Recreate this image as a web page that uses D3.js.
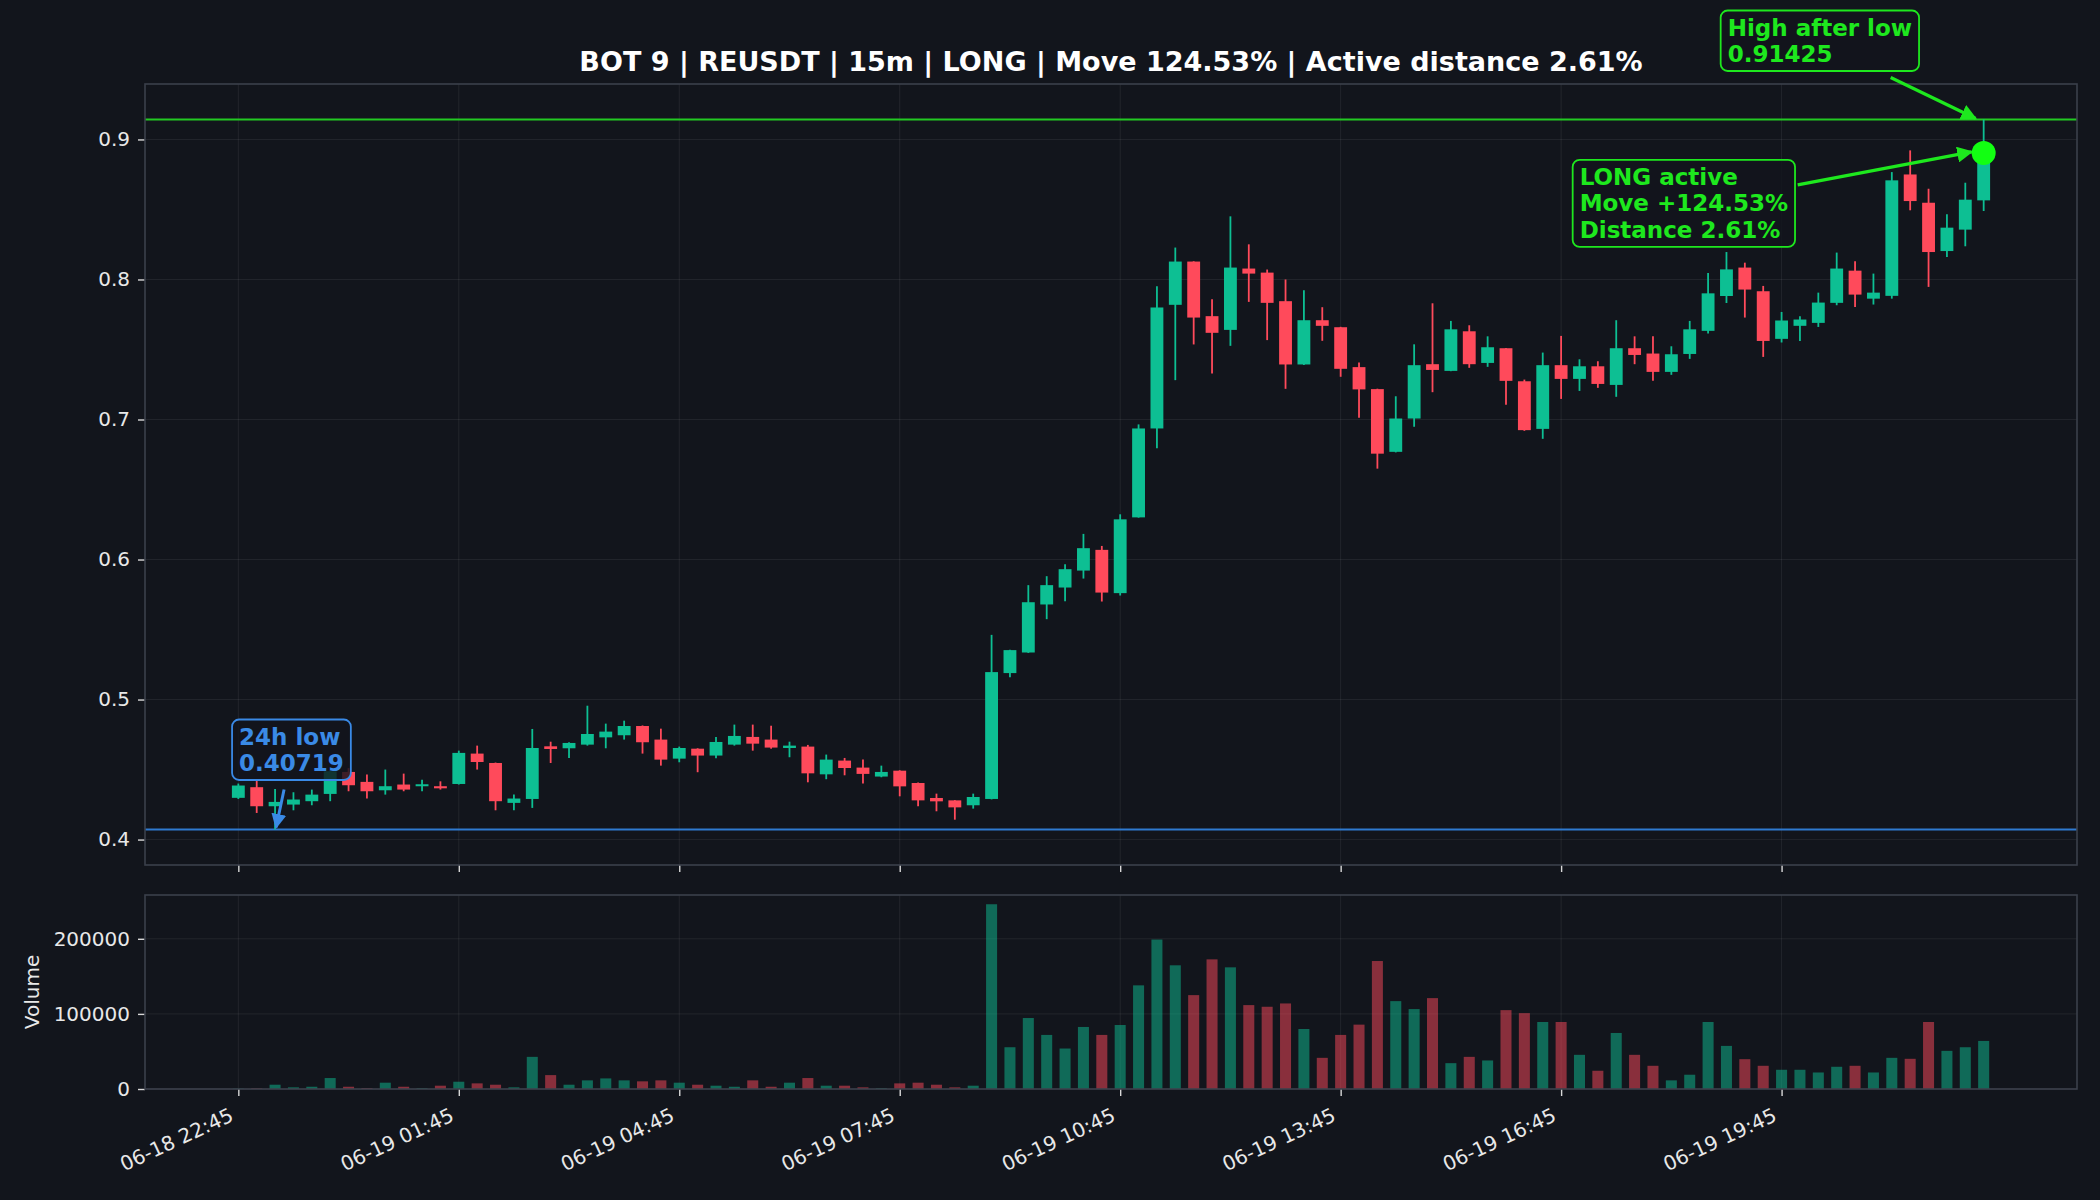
<!DOCTYPE html>
<html>
<head>
<meta charset="utf-8">
<script src="https://cdn.jsdelivr.net/npm/d3@7/dist/d3.min.js"></script>
<style>
    body { margin: 0; background: #12151c; }
    svg { display: block; font-family: "DejaVu Sans", sans-serif; }
</style>
</head>
<body>
<div id="chart"></div>
<script>
// 15m candles, 06-18 22:45 -> 06-19 22:30 (one value per candle)
var opens = [0.4298, 0.4374, 0.4238, 0.4250, 0.4274, 0.4326, 0.4483, 0.4412, 0.4352, 0.4393,
    0.4381, 0.4381, 0.4397, 0.4614, 0.4547, 0.4262, 0.4290, 0.4666, 0.4652, 0.4678,
    0.4730, 0.4745, 0.4811, 0.4714, 0.4578, 0.4649, 0.4600, 0.4678, 0.4733, 0.4714,
    0.4654, 0.4664, 0.4466, 0.4564, 0.4514, 0.4450, 0.4492, 0.4404, 0.4297, 0.4280,
    0.4245, 0.4290, 0.5189, 0.5336, 0.5679, 0.5800, 0.5921, 0.6069, 0.5760, 0.6301,
    0.6936, 0.7819, 0.8128, 0.7738, 0.7640, 0.8078, 0.8049, 0.7845, 0.7393, 0.7709,
    0.7659, 0.7374, 0.7217, 0.6769, 0.7007, 0.7395, 0.7347, 0.7630, 0.7404, 0.7509,
    0.7273, 0.6933, 0.7388, 0.7290, 0.7380, 0.7247, 0.7509, 0.7471, 0.7340, 0.7468,
    0.7633, 0.7882, 0.8085, 0.7916, 0.7576, 0.7669, 0.7690, 0.7833, 0.8063, 0.7863,
    0.7883, 0.8750, 0.8548, 0.8203, 0.8356, 0.8565];
var highs = [0.4400, 0.4420, 0.4362, 0.4338, 0.4357, 0.4495, 0.4510, 0.4464, 0.4500, 0.4471,
    0.4428, 0.4416, 0.4635, 0.4671, 0.4550, 0.4321, 0.4790, 0.4699, 0.4695, 0.4956,
    0.4828, 0.4849, 0.4815, 0.4792, 0.4664, 0.4652, 0.4733, 0.4821, 0.4821, 0.4813,
    0.4699, 0.4676, 0.4607, 0.4583, 0.4571, 0.4528, 0.4495, 0.4407, 0.4328, 0.4282,
    0.4328, 0.5462, 0.5355, 0.5817, 0.5881, 0.5966, 0.6183, 0.6097, 0.6323, 0.6965,
    0.7952, 0.8228, 0.8130, 0.7859, 0.8451, 0.8251, 0.8071, 0.8000, 0.7923, 0.7802,
    0.7662, 0.7407, 0.7220, 0.7166, 0.7537, 0.7830, 0.7704, 0.7673, 0.7594, 0.7511,
    0.7285, 0.7478, 0.7597, 0.7430, 0.7416, 0.7709, 0.7594, 0.7594, 0.7523, 0.7704,
    0.8046, 0.8196, 0.8120, 0.7954, 0.7768, 0.7737, 0.7906, 0.8192, 0.8130, 0.8042,
    0.8767, 0.8922, 0.8648, 0.8465, 0.8691, 0.91425];
var lows = [0.4290, 0.4190, 0.40719, 0.4209, 0.4245, 0.4274, 0.4345, 0.4293, 0.4321, 0.4345,
    0.4345, 0.4357, 0.4393, 0.4500, 0.4209, 0.4209, 0.4226, 0.4547, 0.4583, 0.4671,
    0.4652, 0.4714, 0.4614, 0.4528, 0.4552, 0.4481, 0.4581, 0.4671, 0.4635, 0.4649,
    0.4588, 0.4409, 0.4431, 0.4459, 0.4400, 0.4445, 0.4309, 0.4238, 0.4202, 0.4142,
    0.4221, 0.4287, 0.5160, 0.5333, 0.5574, 0.5702, 0.5864, 0.5700, 0.5743, 0.6299,
    0.6794, 0.7281, 0.7536, 0.7329, 0.7526, 0.7840, 0.7567, 0.7219, 0.7390, 0.7562,
    0.7305, 0.7013, 0.6649, 0.6765, 0.6948, 0.7195, 0.7345, 0.7369, 0.7376, 0.7105,
    0.6919, 0.6862, 0.7147, 0.7204, 0.7226, 0.7162, 0.7395, 0.7276, 0.7319, 0.7433,
    0.7614, 0.7832, 0.7728, 0.7447, 0.7550, 0.7561, 0.7661, 0.7816, 0.7804, 0.7821,
    0.7863, 0.8494, 0.7947, 0.8161, 0.8237, 0.8489];
var closes = [0.4386, 0.4238, 0.4269, 0.4286, 0.4321, 0.4488, 0.4388, 0.4345, 0.4381, 0.4357,
    0.4395, 0.4366, 0.4619, 0.4554, 0.4274, 0.4293, 0.4654, 0.4647, 0.4690, 0.4754,
    0.4771, 0.4811, 0.4695, 0.4571, 0.4654, 0.4600, 0.4697, 0.4740, 0.4685, 0.4657,
    0.4671, 0.4473, 0.4571, 0.4511, 0.4469, 0.4483, 0.4380, 0.4280, 0.4273, 0.4230,
    0.4304, 0.5196, 0.5353, 0.5695, 0.5817, 0.5931, 0.6081, 0.5764, 0.6287, 0.6936,
    0.7800, 0.8128, 0.7728, 0.7619, 0.8085, 0.8042, 0.7833, 0.7393, 0.7709, 0.7669,
    0.7362, 0.7215, 0.6756, 0.7007, 0.7388, 0.7354, 0.7644, 0.7395, 0.7516, 0.7276,
    0.6924, 0.7388, 0.7290, 0.7380, 0.7254, 0.7509, 0.7461, 0.7340, 0.7466, 0.7644,
    0.7901, 0.8072, 0.7928, 0.7561, 0.7707, 0.7714, 0.7835, 0.8078, 0.7892, 0.7906,
    0.8708, 0.8560, 0.8196, 0.8370, 0.8570, 0.8904];
var volumes = [500, 800, 5700, 2200, 3000, 14600, 3000, 1200, 8400, 3000,
    1000, 4400, 9700, 7500, 5700, 2200, 42800, 18500, 5700, 11500,
    14100, 11500, 10200, 11500, 8400, 5700, 4400, 3000, 11500, 3000,
    8400, 14600, 4400, 4400, 2200, 1000, 7500, 8400, 5700, 2200,
    4400, 246000, 55600, 94500, 72000, 53900, 82600, 72000, 85200, 138000,
    199000, 164700, 125000, 172600, 162000, 111700, 109500, 113900, 79900, 41500,
    72000, 85700, 170400, 117000, 106400, 121000, 34400, 42800, 38000, 105000,
    101000, 89200, 89200, 45500, 24300, 74600, 45500, 30900, 11500, 19000,
    89200, 57400, 39700, 30900, 25600, 25600, 22000, 29600, 30900, 22000,
    41500, 40200, 89200, 50800, 55600, 64000];

// x tick labels, one every 12 candles (3 hours)
var tickLabels = ["06-18 22:45", "06-19 01:45", "06-19 04:45", "06-19 07:45",
    "06-19 10:45", "06-19 13:45", "06-19 16:45", "06-19 19:45"];
var priceTicks = [0.4, 0.5, 0.6, 0.7, 0.8, 0.9];
var volumeTicks = [0, 100000, 200000];

// signal values
var lowValue = 0.40719, lowIndex = 2;
var highValue = 0.91425, lastIndex = 95;
var titleText = "BOT 9 | REUSDT | 15m | LONG | Move 124.53% | Active distance 2.61%";

// colours
var bg = "#12151c";
var upColor = "#0dbf93";
var downColor = "#ff4a5b";
var lime = "#1ee81e";
var blue = "#3a8ae6";

var W = 2100, H = 1200;
var left = 145, right = 2077;
var priceTop = 84, priceBottom = 865;
var volTop = 895, volBottom = 1089;

var svg = d3.select("#chart").append("svg")
    .attr("width", W).attr("height", H)
    .style("background", bg);

var n = closes.length;
var x = d3.scaleLinear().domain([-5.08, n - 1 + 5.08]).range([left, right]);
var pad = (highValue - lowValue) * 0.05;
var y = d3.scaleLinear().domain([lowValue - pad, highValue + pad]).range([priceBottom, priceTop]);
var yv = d3.scaleLinear().domain([0, d3.max(volumes) * 1.05]).range([volBottom, volTop]);

var tickIdx = tickLabels.map(function(d, i) { return i * 12; });
var gridColor = "rgba(255,255,255,0.07)";
var spineColor = "#3b404b";
var textColor = "#e8e8e8";

// ---- price panel ----
var gp = svg.append("g");
gp.append("rect").attr("x", left).attr("y", priceTop)
    .attr("width", right - left).attr("height", priceBottom - priceTop).attr("fill", bg);

gp.selectAll(".vgrid").data(tickIdx).enter().append("line")
    .attr("x1", function(d) { return x(d); }).attr("x2", function(d) { return x(d); })
    .attr("y1", priceTop).attr("y2", priceBottom)
    .attr("stroke", gridColor).attr("stroke-width", 1);
gp.selectAll(".hgrid").data(priceTicks).enter().append("line")
    .attr("x1", left).attr("x2", right)
    .attr("y1", function(d) { return y(d); }).attr("y2", function(d) { return y(d); })
    .attr("stroke", gridColor).attr("stroke-width", 1);

// low / high reference lines
gp.append("line").attr("x1", left).attr("x2", right)
    .attr("y1", y(lowValue)).attr("y2", y(lowValue))
    .attr("stroke", "#2f7ad0").attr("stroke-width", 2.2);
gp.append("line").attr("x1", left).attr("x2", right)
    .attr("y1", y(highValue)).attr("y2", y(highValue))
    .attr("stroke", "#22c922").attr("stroke-width", 2.2);

var idx = d3.range(n);
var bodyW = x(0.7) - x(0);
function candleColor(i) { return closes[i] >= opens[i] ? upColor : downColor; }

gp.selectAll(".wick").data(idx).enter().append("line")
    .attr("x1", function(i) { return x(i); }).attr("x2", function(i) { return x(i); })
    .attr("y1", function(i) { return y(highs[i]); })
    .attr("y2", function(i) { return y(lows[i]); })
    .attr("stroke", candleColor).attr("stroke-width", 1.8);
gp.selectAll(".body").data(idx).enter().append("rect")
    .attr("x", function(i) { return x(i) - bodyW / 2; })
    .attr("width", bodyW)
    .attr("y", function(i) { return y(Math.max(opens[i], closes[i])); })
    .attr("height", function(i) {
        return Math.max(2, Math.abs(y(opens[i]) - y(closes[i])));
    })
    .attr("fill", candleColor);

// axes for price panel
var yAxis = d3.axisLeft(y).tickValues(priceTicks).tickSize(7).tickPadding(8)
    .tickFormat(d3.format(".1f"));
var ya = gp.append("g").attr("transform", "translate(" + left + ",0)").call(yAxis);
var xAxisTop = d3.axisBottom(x).tickValues(tickIdx).tickSize(7).tickFormat("");
var xa1 = gp.append("g").attr("transform", "translate(0," + priceBottom + ")").call(xAxisTop);

gp.append("rect").attr("x", left).attr("y", priceTop)
    .attr("width", right - left).attr("height", priceBottom - priceTop)
    .attr("fill", "none").attr("stroke", spineColor).attr("stroke-width", 1.6);

// ---- volume panel ----
var gv = svg.append("g");
gv.selectAll(".vgrid").data(tickIdx).enter().append("line")
    .attr("x1", function(d) { return x(d); }).attr("x2", function(d) { return x(d); })
    .attr("y1", volTop).attr("y2", volBottom)
    .attr("stroke", gridColor).attr("stroke-width", 1);
gv.selectAll(".hgrid").data(volumeTicks).enter().append("line")
    .attr("x1", left).attr("x2", right)
    .attr("y1", function(d) { return yv(d); }).attr("y2", function(d) { return yv(d); })
    .attr("stroke", gridColor).attr("stroke-width", 1);

var volW = x(0.6) - x(0);
gv.selectAll(".vol").data(idx).enter().append("rect")
    .attr("x", function(i) { return x(i) - volW / 2; })
    .attr("width", volW)
    .attr("y", function(i) { return yv(volumes[i]); })
    .attr("height", function(i) { return yv(0) - yv(volumes[i]); })
    .attr("fill", candleColor).attr("fill-opacity", 0.5);

var yvAxis = d3.axisLeft(yv).tickValues(volumeTicks).tickSize(7).tickPadding(8)
    .tickFormat(d3.format("d"));
var yva = gv.append("g").attr("transform", "translate(" + left + ",0)").call(yvAxis);
var xAxis = d3.axisBottom(x).tickValues(tickIdx).tickSize(7)
    .tickFormat(function(d, i) { return tickLabels[i]; });
var xa2 = gv.append("g").attr("transform", "translate(0," + volBottom + ")").call(xAxis);
xa2.selectAll("text")
    .attr("text-anchor", "end")
    .attr("dy", null)
    .attr("y", 0)
    .attr("transform", "translate(-4,31) rotate(-25)");

gv.append("rect").attr("x", left).attr("y", volTop)
    .attr("width", right - left).attr("height", volBottom - volTop)
    .attr("fill", "none").attr("stroke", spineColor).attr("stroke-width", 1.6);

// axis styling
[ya, xa1, yva, xa2].forEach(function(a) {
    a.select(".domain").remove();
    a.selectAll(".tick line").attr("stroke", "#d8d8d8").attr("stroke-width", 1.4);
    a.selectAll("text").attr("fill", textColor)
        .style("font-size", "20px").style("font-family", "DejaVu Sans");
});

svg.append("text")
    .attr("transform", "translate(32," + ((volTop + volBottom) / 2) + ") rotate(-90)")
    .attr("text-anchor", "middle").attr("dy", "0.35em")
    .attr("fill", textColor).style("font-size", "20px")
    .text("Volume");

// title
svg.append("text")
    .attr("x", (left + right) / 2).attr("y", 71)
    .attr("text-anchor", "middle")
    .attr("fill", "#ffffff").style("font-size", "27px").style("font-weight", "bold")
    .text(titleText);

// ---- annotations ----
var defs = svg.append("defs");
function arrowHead(id, color) {
    defs.append("marker").attr("id", id)
        .attr("viewBox", "0 0 10 10").attr("refX", 9).attr("refY", 5)
        .attr("markerWidth", 5).attr("markerHeight", 5).attr("orient", "auto")
        .append("path").attr("d", "M0,0 L10,5 L0,10 z").attr("fill", color);
}
arrowHead("arrLime", lime);
arrowHead("arrBlue", blue);

function labelBox(lines, tx, ty, color) {
    var g = svg.append("g");
    var box = g.append("rect");
    var t = g.append("text").attr("x", tx).attr("y", ty)
        .attr("fill", color).style("font-size", "23px").style("font-weight", "bold");
    lines.forEach(function(s, k) {
        t.append("tspan").attr("x", tx).attr("dy", k === 0 ? 0 : 26.5).text(s);
    });
    var bb = t.node().getBBox();
    box.attr("x", bb.x - 7).attr("y", bb.y - 4)
        .attr("width", bb.width + 14).attr("height", bb.height + 8)
        .attr("rx", 7).attr("ry", 7)
        .attr("fill", "rgba(18,21,28,0.82)").attr("stroke", color).attr("stroke-width", 1.8);
    return bb;
}

// 24h low
var lowX = x(lowIndex), lowY = y(lowValue);
svg.append("line")
    .attr("x1", lowX + 9).attr("y1", lowY - 40)
    .attr("x2", lowX + 1).attr("y2", lowY - 2)
    .attr("stroke", blue).attr("stroke-width", 3).attr("marker-end", "url(#arrBlue)");
labelBox(["24h low", lowValue.toFixed(5)], lowX - 36, lowY - 85, blue);

// LONG active marker
var lastX = x(lastIndex), lastY = y(closes[lastIndex]);
svg.append("line")
    .attr("x1", lastX - 186).attr("y1", lastY + 32)
    .attr("x2", lastX - 12).attr("y2", lastY - 1)
    .attr("stroke", lime).attr("stroke-width", 3.2).attr("marker-end", "url(#arrLime)");
svg.append("circle").attr("cx", lastX).attr("cy", lastY).attr("r", 12).attr("fill", "#12ff12");
labelBox(["LONG active", "Move +124.53%", "Distance 2.61%"], lastX - 404, lastY + 32, lime);

// High after low
var hiY = y(highValue);
svg.append("line")
    .attr("x1", lastX - 93).attr("y1", hiY - 42)
    .attr("x2", lastX - 8).attr("y2", hiY - 1)
    .attr("stroke", lime).attr("stroke-width", 3.2).attr("marker-end", "url(#arrLime)");
labelBox(["High after low", highValue.toFixed(5)], lastX - 256, hiY - 84, lime);
</script>
</body>
</html>
